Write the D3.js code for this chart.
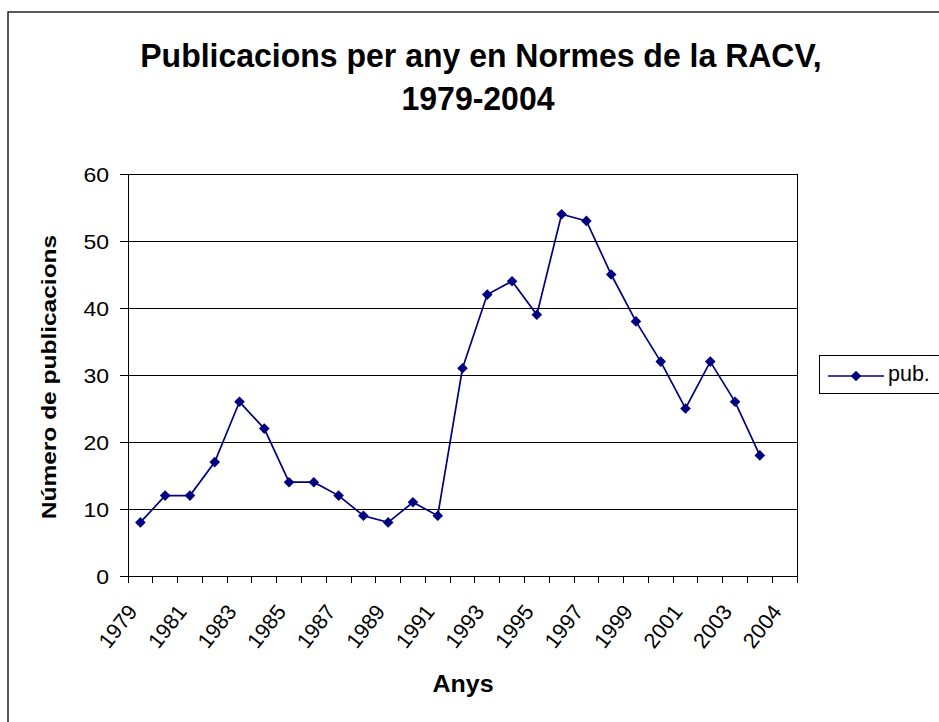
<!DOCTYPE html>
<html>
<head>
<meta charset="utf-8">
<script src="https://cdn.jsdelivr.net/npm/d3@7"></script>
<style>
  body { margin: 0; background: #fff; }
  svg text { font-family: "Liberation Sans", Arial, sans-serif; fill: #000; }
</style>
</head>
<body>
<svg id="chart" width="939" height="722"></svg>
<script>
'use strict'

// categories on the x axis (last slot carries the final "2004" tick label)
const categories = ['1979','1980','1981','1982','1983','1984','1985','1986','1987','1988',
  '1989','1990','1991','1992','1993','1994','1995','1996','1997','1998',
  '1999','2000','2001','2002','2003','2004','2004 ']
// publications per year, 1979-2004
const pubs = [8, 12, 12, 17, 26, 22, 14, 14, 12, 9, 8, 11, 9, 31, 42, 44, 39, 54, 53, 45, 38, 32, 25, 32, 26, 18]
const yTicks = [0, 10, 20, 30, 40, 50, 60]

const plot = {left: 128, top: 174, right: 797, bottom: 576}
const lineColor = '#000080'

const svg = d3.select('#chart')

// outer chart border
svg.append('rect')
  .attr('x', 8).attr('y', 12)
  .attr('width', 1000).attr('height', 1000)
  .attr('fill', 'none').attr('stroke', '#222').attr('stroke-width', 1.5)

// scales
const x = d3.scaleBand().domain(categories).range([plot.left, plot.right])
const y = d3.scaleLinear().domain([0, 60]).range([plot.bottom, plot.top])

// horizontal gridlines
svg.append('g').selectAll('line')
  .data(yTicks.filter(d => d > 0))
  .enter().append('line')
  .attr('x1', plot.left).attr('x2', plot.right)
  .attr('y1', d => y(d)).attr('y2', d => y(d))
  .attr('stroke', '#000').attr('stroke-width', 1)
  .attr('shape-rendering', 'crispEdges')

// right border of plot area
svg.append('line')
  .attr('x1', plot.right).attr('x2', plot.right)
  .attr('y1', plot.top).attr('y2', plot.bottom)
  .attr('stroke', '#000').attr('shape-rendering', 'crispEdges')

// y axis
const yAxis = svg.append('g')
  .attr('transform', 'translate(' + plot.left + ',0)')
  .call(d3.axisLeft(y).tickValues(yTicks).tickSize(8))
yAxis.select('.domain').attr('stroke', '#000').attr('shape-rendering', 'crispEdges')
yAxis.selectAll('.tick line').attr('stroke', '#000').attr('shape-rendering', 'crispEdges')
yAxis.selectAll('text')
  .style('font-size', '23px')
  .attr('x', 0).attr('dy', null)
  .attr('transform', 'translate(-19,7) scale(1,0.85)')

// x axis: ticks on category boundaries, label every other category
const xAxis = svg.append('g')
  .attr('transform', 'translate(0,' + plot.bottom + ')')
  .call(d3.axisBottom(x).tickSize(0).tickFormat((d, i) => i % 2 === 0 ? d.trim() : ''))
xAxis.select('.domain').attr('stroke', '#000').attr('shape-rendering', 'crispEdges')
xAxis.selectAll('text')
  .style('font-size', '21.5px')
  .style('text-anchor', 'end')
  .attr('x', 0).attr('y', 0).attr('dy', null)
  .attr('transform', 'translate(-2,36) rotate(-52)')

// boundary tick marks
xAxis.selectAll('.bound')
  .data(categories.concat(['end']))
  .enter().append('line')
  .attr('x1', (d, i) => plot.left + i * x.step())
  .attr('x2', (d, i) => plot.left + i * x.step())
  .attr('y1', 0).attr('y2', 7)
  .attr('stroke', '#000').attr('shape-rendering', 'crispEdges')

// the series line
const cx = (d, i) => x(categories[i]) + x.bandwidth() / 2
svg.append('path')
  .datum(pubs)
  .attr('fill', 'none')
  .attr('stroke', lineColor)
  .attr('stroke-width', 1.7)
  .attr('d', d3.line().x(cx).y(d => y(d)))

// diamond markers
svg.append('g').selectAll('path')
  .data(pubs)
  .enter().append('path')
  .attr('d', d3.symbol().type(d3.symbolDiamond2).size(72))
  .attr('transform', (d, i) => 'translate(' + cx(d, i) + ',' + y(d) + ')')
  .attr('fill', lineColor)

// title
svg.append('text')
  .attr('transform', 'translate(481,67) scale(1,1.05)')
  .attr('text-anchor', 'middle')
  .style('font-size', '32px').style('font-weight', 'bold')
  .text('Publicacions per any en Normes de la RACV,')
svg.append('text')
  .attr('transform', 'translate(478,110) scale(1,1.05)')
  .attr('text-anchor', 'middle')
  .style('font-size', '32px').style('font-weight', 'bold')
  .text('1979-2004')

// axis titles
svg.append('text')
  .attr('transform', 'translate(56,377) rotate(-90) scale(1,0.8)')
  .attr('text-anchor', 'middle')
  .style('font-size', '24.5px').style('font-weight', 'bold')
  .text('Número de publicacions')

svg.append('text')
  .attr('transform', 'translate(463,692) scale(1,0.93)')
  .attr('text-anchor', 'middle')
  .style('font-size', '25px').style('font-weight', 'bold')
  .text('Anys')

// legend
const legend = svg.append('g')
legend.append('rect')
  .attr('x', 819).attr('y', 355).attr('width', 130).attr('height', 38)
  .attr('fill', '#fff').attr('stroke', '#000').attr('stroke-width', 1)
  .attr('shape-rendering', 'crispEdges')
legend.append('line')
  .attr('x1', 828).attr('x2', 884).attr('y1', 376).attr('y2', 376)
  .attr('stroke', lineColor).attr('stroke-width', 1.7)
legend.append('path')
  .attr('d', d3.symbol().type(d3.symbolDiamond2).size(72))
  .attr('transform', 'translate(856,376)')
  .attr('fill', lineColor)
legend.append('text')
  .attr('x', 888).attr('y', 381)
  .style('font-size', '21.5px')
  .text('pub.')
</script>
</body>
</html>
